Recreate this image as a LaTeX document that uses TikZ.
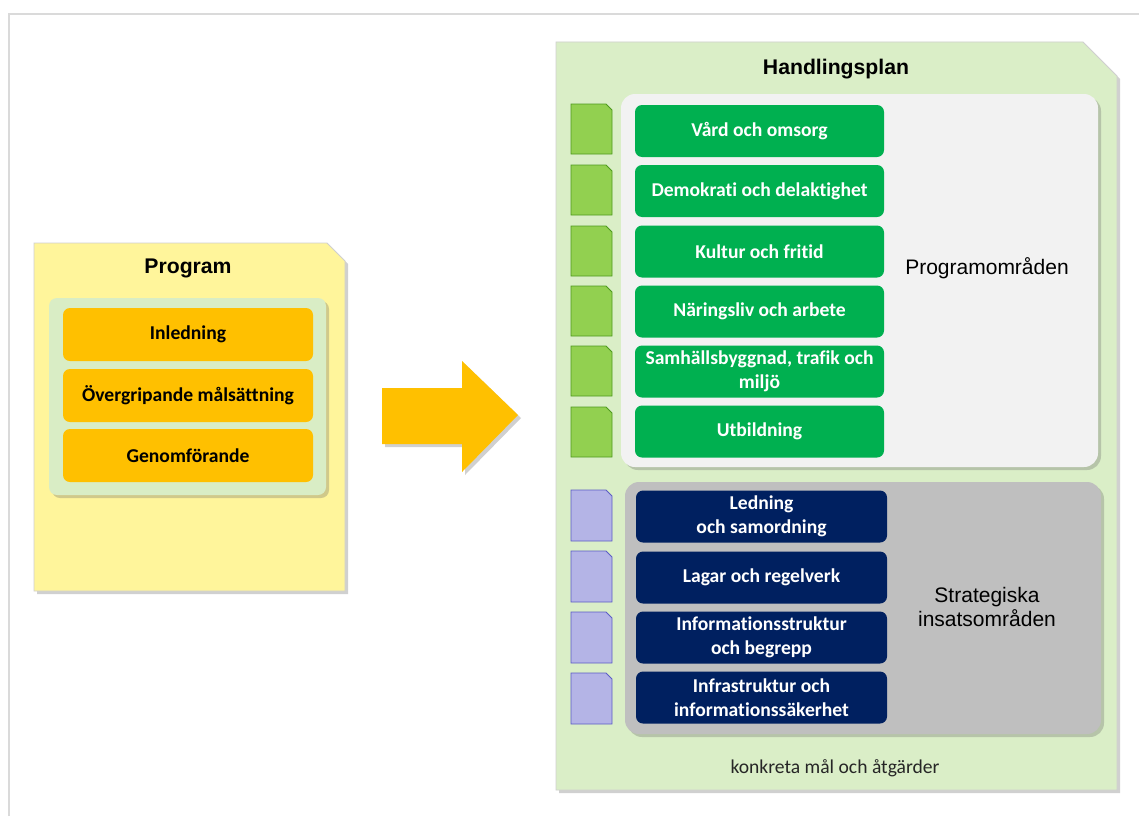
\documentclass[tikz,border=0pt]{standalone}
\usepackage{fontspec}
\setmainfont{Liberation Sans}
\newfontfamily\calfont[Ligatures=NoCommon]{Carlito}
\usetikzlibrary{shadows}
\definecolor{framegray}{HTML}{DADADA}
\definecolor{docborder}{HTML}{CFCFCF}
\definecolor{progyellow}{HTML}{FFF59B}
\definecolor{plangreen}{HTML}{DAEEC7}
\definecolor{innergreen}{HTML}{D9EDC5}
\definecolor{orangebox}{HTML}{FFC000}
\definecolor{lightpanel}{HTML}{F2F2F2}
\definecolor{graypanel}{HTML}{BFBFBF}
\definecolor{greenbox}{HTML}{00B050}
\definecolor{navybox}{HTML}{002060}
\definecolor{smallgreen}{HTML}{92D050}
\definecolor{smallgreenborder}{HTML}{4E9A1E}
\definecolor{lavender}{HTML}{B4B4E6}
\definecolor{lavenderborder}{HTML}{5C5CC6}
\tikzset{
  shad/.style={drop shadow={shadow xshift=3pt, shadow yshift=-3pt, opacity=0.3, fill=black!60}},
  titletext/.style={font=\bfseries\fontsize{21.2}{25}\selectfont, text=black},
  bigtext/.style={font=\fontsize{21}{25}\selectfont, text=black, align=center},
  boxbase/.style={rectangle, rounded corners=7pt, inner sep=2pt, align=center,
     font=\calfont\bfseries\fontsize{19.6}{23.5}\selectfont},
  orangebx/.style={boxbase, fill=orangebox, text=black, minimum width=250pt, minimum height=53pt},
  greenbx/.style={boxbase, fill=greenbox, text=white, minimum width=249pt, minimum height=52pt},
  navybx/.style={boxbase, fill=navybox, text=white, minimum width=251pt, minimum height=52pt},
  panelbox/.style={rectangle, rounded corners=14pt, inner sep=0pt, shad},
  smallgreendoc/.style={fill=smallgreen, draw=smallgreenborder, line width=0.9pt},
  smalllavdoc/.style={fill=lavender, draw=lavenderborder, line width=0.9pt},
}
\begin{document}
\begin{tikzpicture}[x=1pt,y=-1pt]
\useasboundingbox (0,0) rectangle (1139,816);
\fill[white] (0,0) rectangle (1139,816);
\draw[framegray, line width=1.6pt] (9,816) -- (9,14) -- (1139,14);

% ---------- Program document ----------
\path[fill=progyellow, draw=docborder, line width=0.8pt, shad]
  (34,243) -- (327,243) -- (345,261) -- (345,591) -- (34,591) -- cycle;
\node[titletext] (progtitle) at (188,268) {Program};
\node[panelbox, rounded corners=8pt, fill=innergreen, minimum width=277pt, minimum height=197pt] (progpanel) at (187.5,396.5) {};
\node[orangebx] (inl) at (188,334.5) {Inledning};
\node[orangebx] (overg) at (188,395.5) {Övergripande målsättning};
\node[orangebx] (genom) at (188,455.5) {Genomförande};

% ---------- Arrow ----------
\path[fill=orangebox, shad]
  (382,388) -- (462,388) -- (462,361) -- (518,415) -- (462,472) -- (462,444) -- (382,444) -- cycle;

% ---------- Handlingsplan document ----------
\path[fill=plangreen, draw=docborder, line width=0.8pt, shad]
  (556,42) -- (1083,42) -- (1117,76) -- (1117,790) -- (556,790) -- cycle;
\node[titletext] (plantitle) at (836,69) {Handlingsplan};

\node[panelbox, fill=lightpanel, minimum width=477pt, minimum height=373pt] (progpanel2) at (859.5,280.5) {};
\node[bigtext] (progomr) at (987,268) {Programområden};

\node[panelbox, fill=graypanel, minimum width=476pt, minimum height=252pt] (stratpanel) at (863,608) {};
\node[bigtext, font=\fontsize{21}{24}\selectfont] (stratomr) at (987,607) {Strategiska\\insatsområden};

% green boxes
\node[greenbx] (g1) at (759.5,131) {Vård och omsorg};
\node[greenbx] (g2) at (759.5,191) {Demokrati och delaktighet};
\node[greenbx] (g3) at (759.5,251.5) {Kultur och fritid};
\node[greenbx] (g4) at (759.5,311.5) {Näringsliv och arbete};
\node[greenbx] (g5) at (759.5,371.5) {Samhällsbyggnad, trafik och\\miljö};
\node[greenbx] (g6) at (759.5,431.5) {Utbildning};

% navy boxes
\node[navybx] (n1) at (761.5,516.5) {Ledning\\och samordning};
\node[navybx] (n2) at (761.5,577.5) {Lagar och regelverk};
\node[navybx] (n3) at (761.5,637.5) {Informationsstruktur\\och begrepp};
\node[navybx] (n4) at (761.5,697.5) {Infrastruktur och\\informationssäkerhet};

% small documents
\foreach \t in {104,165,226,286,346,407}{
  \path[smallgreendoc] (571,\t) -- (606,\t) -- (612,\t+6) -- (612,\t+50) -- (571,\t+50) -- cycle;
}
\foreach \t in {490,551,612,673}{
  \path[smalllavdoc] (571,\t) -- (606,\t) -- (612,\t+6) -- (612,\t+51) -- (571,\t+51) -- cycle;
}

\node[font=\calfont\fontsize{19.6}{23}\selectfont, text=black!85] (konkreta) at (835,768) {konkreta mål och åtgärder};
\end{tikzpicture}
\end{document}
